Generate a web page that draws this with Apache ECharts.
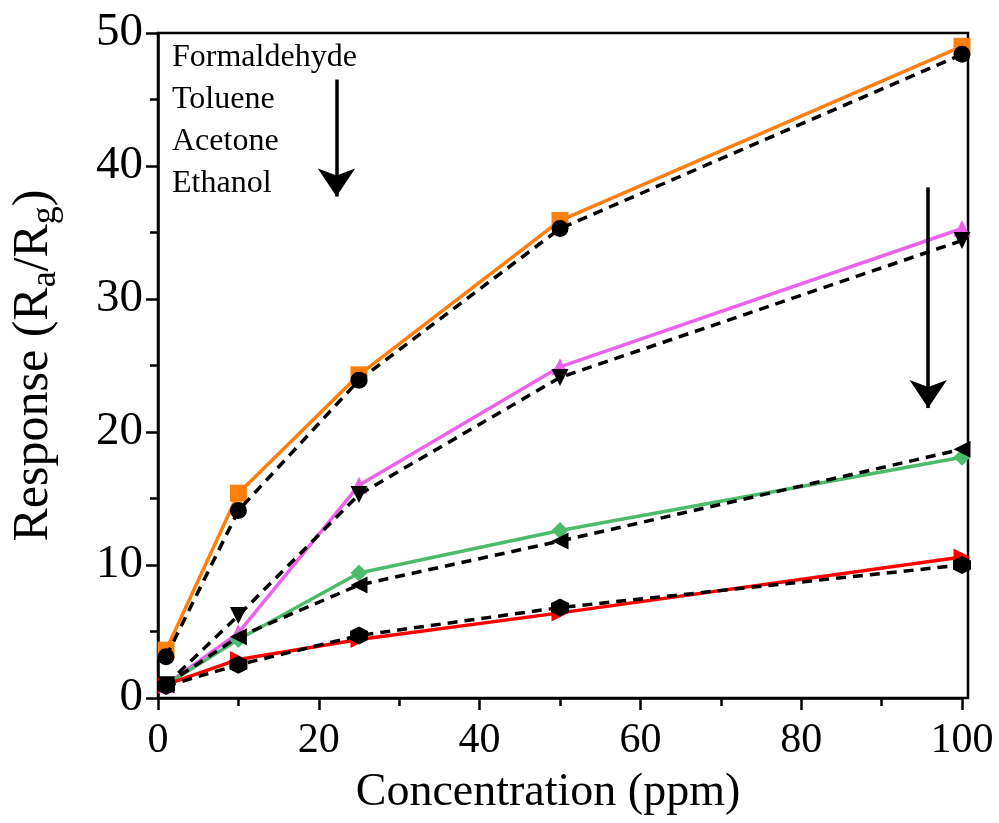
<!DOCTYPE html>
<html>
<head>
<meta charset="utf-8">
<script src="https://cdn.jsdelivr.net/npm/echarts@6/dist/echarts.min.js"></script>
<style>
  html, body { margin: 0; padding: 0; background: #fff; }
  #chart { width: 999px; height: 823px; }
</style>
</head>
<body>
<div id="chart"></div>
<script>
// concentrations (ppm)
const concentrations = [1, 10, 25, 50, 100];

// coloured solid curves
const formaldehyde = [3.6, 15.4, 24.3, 35.9, 49.0];
const toluene = [1.0, 4.9, 16.0, 24.9, 35.3];
const acetone = [1.0, 4.4, 9.4, 12.6, 18.1];
const ethanol = [1.0, 2.9, 4.4, 6.4, 10.6];

// black dashed curves
const formaldehydeB = [3.1, 14.1, 23.9, 35.3, 48.4];
const tolueneB = [1.0, 6.2, 15.3, 24.1, 34.4];
const acetoneB = [1.0, 4.6, 8.5, 11.8, 18.7];
const ethanolB = [0.9, 2.5, 4.7, 6.8, 10.0];

const gasNames = ['Formaldehyde', 'Toluene', 'Acetone', 'Ethanol'];

const xTicks = [0, 20, 40, 60, 80, 100];
const yTicks = [0, 10, 20, 30, 40, 50];

const FONT = '"Liberation Serif", "Times New Roman", serif';
const hexagon = 'path://M0,-1 L0.866,-0.5 L0.866,0.5 L0,1 L-0.866,0.5 L-0.866,-0.5 Z';

const pairs = arr => concentrations.map((c, i) => [c, arr[i]]);

function solid(name, arr, color, symbol, rotate) {
  return {
    name: name,
    type: 'line',
    data: pairs(arr),
    symbol: symbol,
    symbolSize: 17,
    symbolRotate: rotate || 0,
    lineStyle: { color: color, width: 3.5 },
    itemStyle: { color: color },
    z: 2
  };
}

function dashed(name, arr, symbol, rotate, size) {
  return {
    name: name,
    type: 'line',
    data: pairs(arr),
    symbol: symbol,
    symbolSize: size || 17,
    symbolRotate: rotate || 0,
    lineStyle: { color: '#000', width: 3.5, type: [10, 7] },
    itemStyle: { color: '#000' },
    z: 3
  };
}

const chart = echarts.init(document.getElementById('chart'));

const series = [
  solid(gasNames[0], formaldehyde, '#ff7f0e', 'rect'),
  solid(gasNames[1], toluene, '#ea63ea', 'triangle'),
  solid(gasNames[2], acetone, '#4cbb6c', 'diamond'),
  solid(gasNames[3], ethanol, '#ff0000', 'triangle', -90),
  dashed(gasNames[0] + ' B', formaldehydeB, 'circle'),
  dashed(gasNames[1] + ' B', tolueneB, 'triangle', 180),
  dashed(gasNames[2] + ' B', acetoneB, 'triangle', 90),
  dashed(gasNames[3] + ' B', ethanolB, hexagon, 0, 18)
];

// arrows as mark lines in data space
series[0].markLine = {
  silent: true,
  symbol: ['none', 'arrow'],
  symbolSize: 28,
  label: { show: false },
  lineStyle: { color: '#000', width: 3.5, type: 'solid' },
  data: [
    [{ coord: [22.2, 46.5] }, { coord: [22.2, 37.7] }],
    [{ coord: [95.8, 38.4] }, { coord: [95.8, 21.8] }]
  ]
};

const option = {
  animation: false,
  backgroundColor: '#fff',
  grid: [
    { left: 158, top: 33, width: 804, height: 665, outerBoundsMode: 'none' },
    // outer frame
    { left: 158, top: 33, width: 810, height: 665, show: true, borderColor: '#000', borderWidth: 2.5, backgroundColor: 'transparent', outerBoundsMode: 'none' }
  ],
  xAxis: [
    {
      type: 'value',
      gridIndex: 0,
      min: 0,
      max: 100,
      interval: 20,
      name: 'Concentration (ppm)',
      nameLocation: 'middle',
      nameGap: 72,
      nameTextStyle: { fontFamily: FONT, fontSize: 46, color: '#000', padding: [0, 24, 0, 0] },
      axisLine: { show: true, lineStyle: { color: '#000', width: 2.5 } },
      axisTick: { show: true, inside: false, length: 12, lineStyle: { color: '#000', width: 2.5 } },
      minorTick: { show: true, splitNumber: 2, length: 8, lineStyle: { color: '#000', width: 2.5 } },
      splitLine: { show: false },
      axisLabel: {
        fontFamily: FONT, fontSize: 42, color: '#000', margin: 22,
        formatter: v => (xTicks.includes(v) ? String(v) : '')
      }
    },
    { type: 'value', gridIndex: 1, min: 0, max: 1, show: false }
  ],
  yAxis: [
    {
      type: 'value',
      gridIndex: 0,
      min: 0,
      max: 50,
      interval: 10,
      name: '{m|Response (R}{s|a}{m|/R}{s|g}{m|)}',
      nameLocation: 'middle',
      nameGap: 94,
      nameRotate: 90,
      nameTextStyle: {
        color: '#000',
        rich: {
          m: { fontFamily: FONT, fontSize: 50, color: '#000', lineHeight: 60, verticalAlign: 'middle' },
          s: { fontFamily: FONT, fontSize: 36, color: '#000', lineHeight: 60, verticalAlign: 'bottom' }
        }
      },
      axisLine: { show: true, lineStyle: { color: '#000', width: 2.5 } },
      axisTick: { show: true, inside: false, length: 12, lineStyle: { color: '#000', width: 2.5 } },
      minorTick: { show: true, splitNumber: 2, length: 8, lineStyle: { color: '#000', width: 2.5 } },
      splitLine: { show: false },
      axisLabel: {
        fontFamily: FONT, fontSize: 47, color: '#000', margin: 15,
        formatter: v => (yTicks.includes(v) ? String(v) : '')
      }
    },
    { type: 'value', gridIndex: 1, min: 0, max: 1, show: false }
  ],
  graphic: [
    {
      type: 'text',
      left: 172,
      top: 37,
      silent: true,
      style: {
        text: gasNames.join('\n'),
        font: '32px ' + FONT,
        lineHeight: 42,
        fill: '#000'
      }
    }
  ],
  series: series
};

chart.setOption(option);
</script>
</body>
</html>
